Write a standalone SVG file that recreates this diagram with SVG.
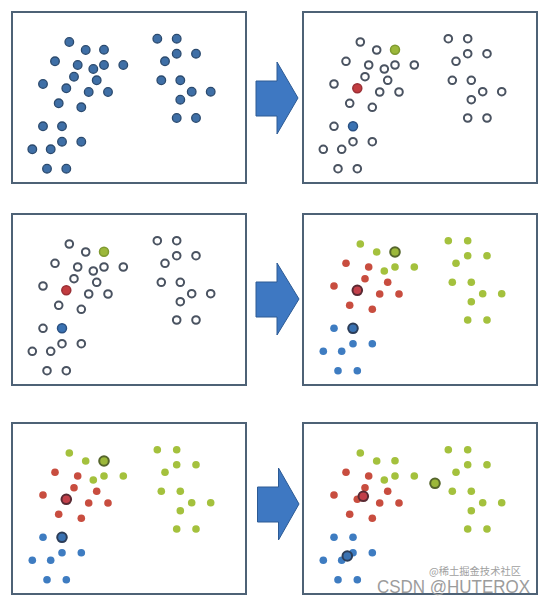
<svg xmlns="http://www.w3.org/2000/svg" xmlns:xlink="http://www.w3.org/1999/xlink" width="547" height="604" viewBox="0 0 547 604">
<style>
.frame{fill:#ffffff;stroke:#4e6276;stroke-width:2}
.pt{fill:#3f6fa6;stroke:#2b4a6e;stroke-width:1.3}
.ho{fill:#ffffff;stroke:#4a5361;stroke-width:2}
.g{fill:#a4c13d}
.r{fill:#c84d3f}
.b{fill:#3e7cc1}
.cg{fill:#9cb83a;stroke:#55652c;stroke-width:2}
.cr{fill:#c2404a;stroke:#5a2a33;stroke-width:2}
.cb{fill:#3a72b2;stroke:#2c3d58;stroke-width:2}
.hg{fill:#9cb83a;stroke:#7f9a30;stroke-width:1.5}
.hr{fill:#c23c40;stroke:#9a3036;stroke-width:1.5}
.hb{fill:#3a72b2;stroke:#2b5182;stroke-width:1.5}
.arrow{fill:#3e78c2;stroke:#2c5a94;stroke-width:1}
.wm{font-family:"Liberation Sans",Arial,sans-serif;fill:#9c9c9c}
.wm2{font-family:"Noto Sans CJK SC","Noto Sans",sans-serif;fill:#a0a0a0}
</style>
<defs>
<g id="hollowDots">
<circle class="ho" cx="69.3" cy="42" r="3.8"/>
<circle class="ho" cx="85.7" cy="50" r="3.8"/>
<circle class="ho" cx="55" cy="61.3" r="3.8"/>
<circle class="ho" cx="77.7" cy="65" r="3.8"/>
<circle class="ho" cx="93.3" cy="69" r="3.8"/>
<circle class="ho" cx="104" cy="65" r="3.8"/>
<circle class="ho" cx="123.3" cy="65" r="3.8"/>
<circle class="ho" cx="74" cy="76.7" r="3.8"/>
<circle class="ho" cx="96.7" cy="80.3" r="3.8"/>
<circle class="ho" cx="43" cy="84" r="3.8"/>
<circle class="ho" cx="88.7" cy="92" r="3.8"/>
<circle class="ho" cx="108" cy="92" r="3.8"/>
<circle class="ho" cx="58.7" cy="103.3" r="3.8"/>
<circle class="ho" cx="81.3" cy="107.3" r="3.8"/>
<circle class="ho" cx="43" cy="126.3" r="3.8"/>
<circle class="ho" cx="62" cy="141.7" r="3.8"/>
<circle class="ho" cx="81.3" cy="141.7" r="3.8"/>
<circle class="ho" cx="32.3" cy="149.3" r="3.8"/>
<circle class="ho" cx="50.7" cy="149.3" r="3.8"/>
<circle class="ho" cx="47" cy="168.7" r="3.8"/>
<circle class="ho" cx="66.3" cy="168.7" r="3.8"/>
<circle class="ho" cx="157.3" cy="38.7" r="3.8"/>
<circle class="ho" cx="176.7" cy="38.7" r="3.8"/>
<circle class="ho" cx="176.7" cy="53.7" r="3.8"/>
<circle class="ho" cx="196" cy="53.7" r="3.8"/>
<circle class="ho" cx="165" cy="61.3" r="3.8"/>
<circle class="ho" cx="161.3" cy="80.3" r="3.8"/>
<circle class="ho" cx="180.3" cy="80.3" r="3.8"/>
<circle class="ho" cx="191.7" cy="91.7" r="3.8"/>
<circle class="ho" cx="210.7" cy="91.7" r="3.8"/>
<circle class="ho" cx="180.3" cy="99.7" r="3.8"/>
<circle class="ho" cx="176.7" cy="118" r="3.8"/>
<circle class="ho" cx="196" cy="118" r="3.8"/>
<circle class="hg" cx="104" cy="49.7" r="4.5"/>
<circle class="hr" cx="66.3" cy="88.3" r="4.5"/>
<circle class="hb" cx="62" cy="126.3" r="4.5"/>
</g>
<g id="coloredDots">
<circle class="g" cx="69.3" cy="42" r="3.8"/>
<circle class="g" cx="85.7" cy="50" r="3.8"/>
<circle class="g" cx="104" cy="49.7" r="3.8"/>
<circle class="r" cx="55" cy="61.3" r="3.8"/>
<circle class="r" cx="77.7" cy="65" r="3.8"/>
<circle class="g" cx="93.3" cy="69" r="3.8"/>
<circle class="g" cx="104" cy="65" r="3.8"/>
<circle class="g" cx="123.3" cy="65" r="3.8"/>
<circle class="r" cx="74" cy="76.7" r="3.8"/>
<circle class="r" cx="96.7" cy="80.3" r="3.8"/>
<circle class="r" cx="43" cy="84" r="3.8"/>
<circle class="r" cx="66.3" cy="88.3" r="3.8"/>
<circle class="r" cx="88.7" cy="92" r="3.8"/>
<circle class="r" cx="108" cy="92" r="3.8"/>
<circle class="r" cx="58.7" cy="103.3" r="3.8"/>
<circle class="r" cx="81.3" cy="107.3" r="3.8"/>
<circle class="b" cx="43" cy="126.3" r="3.8"/>
<circle class="b" cx="62" cy="126.3" r="3.8"/>
<circle class="b" cx="62" cy="141.7" r="3.8"/>
<circle class="b" cx="81.3" cy="141.7" r="3.8"/>
<circle class="b" cx="32.3" cy="149.3" r="3.8"/>
<circle class="b" cx="50.7" cy="149.3" r="3.8"/>
<circle class="b" cx="47" cy="168.7" r="3.8"/>
<circle class="b" cx="66.3" cy="168.7" r="3.8"/>
<circle class="g" cx="157.3" cy="38.7" r="3.8"/>
<circle class="g" cx="176.7" cy="38.7" r="3.8"/>
<circle class="g" cx="176.7" cy="53.7" r="3.8"/>
<circle class="g" cx="196" cy="53.7" r="3.8"/>
<circle class="g" cx="165" cy="61.3" r="3.8"/>
<circle class="g" cx="161.3" cy="80.3" r="3.8"/>
<circle class="g" cx="180.3" cy="80.3" r="3.8"/>
<circle class="g" cx="191.7" cy="91.7" r="3.8"/>
<circle class="g" cx="210.7" cy="91.7" r="3.8"/>
<circle class="g" cx="180.3" cy="99.7" r="3.8"/>
<circle class="g" cx="176.7" cy="118" r="3.8"/>
<circle class="g" cx="196" cy="118" r="3.8"/>
</g>
<g id="centroidsStart">
<circle class="cg" cx="104" cy="50" r="4.8"/>
<circle class="cr" cx="66.3" cy="88.3" r="4.8"/>
<circle class="cb" cx="62" cy="126.3" r="4.8"/>
</g>
</defs>

<g id="panel-1">
<rect class="frame" x="12" y="12" width="234" height="171"/>
<circle class="pt" cx="69.3" cy="42" r="4.3"/>
<circle class="pt" cx="85.7" cy="50" r="4.3"/>
<circle class="pt" cx="104" cy="49.7" r="4.3"/>
<circle class="pt" cx="55" cy="61.3" r="4.3"/>
<circle class="pt" cx="77.7" cy="65" r="4.3"/>
<circle class="pt" cx="93.3" cy="69" r="4.3"/>
<circle class="pt" cx="104" cy="65" r="4.3"/>
<circle class="pt" cx="123.3" cy="65" r="4.3"/>
<circle class="pt" cx="74" cy="76.7" r="4.3"/>
<circle class="pt" cx="96.7" cy="80.3" r="4.3"/>
<circle class="pt" cx="43" cy="84" r="4.3"/>
<circle class="pt" cx="66.3" cy="88.3" r="4.3"/>
<circle class="pt" cx="88.7" cy="92" r="4.3"/>
<circle class="pt" cx="108" cy="92" r="4.3"/>
<circle class="pt" cx="58.7" cy="103.3" r="4.3"/>
<circle class="pt" cx="81.3" cy="107.3" r="4.3"/>
<circle class="pt" cx="43" cy="126.3" r="4.3"/>
<circle class="pt" cx="62" cy="126.3" r="4.3"/>
<circle class="pt" cx="62" cy="141.7" r="4.3"/>
<circle class="pt" cx="81.3" cy="141.7" r="4.3"/>
<circle class="pt" cx="32.3" cy="149.3" r="4.3"/>
<circle class="pt" cx="50.7" cy="149.3" r="4.3"/>
<circle class="pt" cx="47" cy="168.7" r="4.3"/>
<circle class="pt" cx="66.3" cy="168.7" r="4.3"/>
<circle class="pt" cx="157.3" cy="38.7" r="4.3"/>
<circle class="pt" cx="176.7" cy="38.7" r="4.3"/>
<circle class="pt" cx="176.7" cy="53.7" r="4.3"/>
<circle class="pt" cx="196" cy="53.7" r="4.3"/>
<circle class="pt" cx="165" cy="61.3" r="4.3"/>
<circle class="pt" cx="161.3" cy="80.3" r="4.3"/>
<circle class="pt" cx="180.3" cy="80.3" r="4.3"/>
<circle class="pt" cx="191.7" cy="91.7" r="4.3"/>
<circle class="pt" cx="210.7" cy="91.7" r="4.3"/>
<circle class="pt" cx="180.3" cy="99.7" r="4.3"/>
<circle class="pt" cx="176.7" cy="118" r="4.3"/>
<circle class="pt" cx="196" cy="118" r="4.3"/>
</g>

<g id="panel-2" transform="translate(291,0)">
<rect class="frame" x="12" y="12" width="234" height="171"/>
<use xlink:href="#hollowDots" href="#hollowDots"/>
</g>

<g id="panel-3" transform="translate(0,202)">
<rect class="frame" x="12" y="12" width="234" height="171"/>
<use xlink:href="#hollowDots" href="#hollowDots"/>
</g>

<g id="panel-4" transform="translate(291,202)">
<rect class="frame" x="12" y="12" width="234" height="171"/>
<use xlink:href="#coloredDots" href="#coloredDots"/>
<use xlink:href="#centroidsStart" href="#centroidsStart"/>
</g>

<g id="panel-5" transform="translate(0,411)">
<rect class="frame" x="12" y="12" width="234" height="171"/>
<use xlink:href="#coloredDots" href="#coloredDots"/>
<use xlink:href="#centroidsStart" href="#centroidsStart"/>
</g>

<g id="panel-6" transform="translate(291,411)">
<rect class="frame" x="12" y="12" width="234" height="171"/>
<use xlink:href="#coloredDots" href="#coloredDots"/>
<circle class="cg" cx="144" cy="72.3" r="4.8"/>
<circle class="cr" cx="72.3" cy="85.3" r="4.8"/>
<circle class="cb" cx="56.3" cy="145" r="4.8"/>
</g>

<g id="connectors">
<path class="arrow" d="M256,81 H277 V62 L298,98 L277,134 V116 H256 Z"/>
<path class="arrow" d="M256,282 H277 V263 L299,299 L277,335 V317 H256 Z"/>
<path class="arrow" d="M257.5,487 H278.5 V468 L299,504 L278.5,540 V522 H257.5 Z"/>
</g>

<g id="watermark">
<text class="wm2" x="429" y="574.5" font-size="10" textLength="92" lengthAdjust="spacingAndGlyphs">@稀土掘金技术社区</text>
<text class="wm" x="377" y="593" font-size="17.5" textLength="153" lengthAdjust="spacingAndGlyphs">CSDN @HUTEROX</text>
</g>
</svg>
